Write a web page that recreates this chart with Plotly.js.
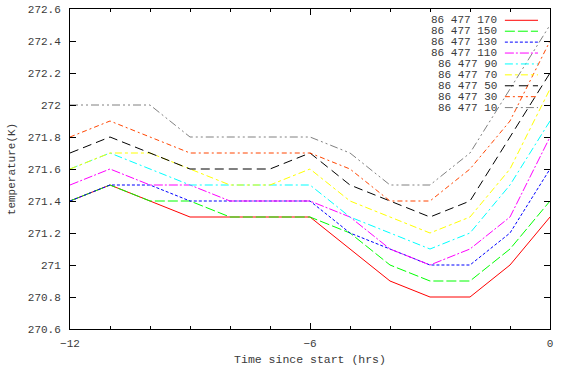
<!DOCTYPE html>
<html>
<head>
<meta charset="utf-8">
<script src="https://cdn.plot.ly/plotly-3.0.1.min.js"></script>
<style>html,body{margin:0;padding:0;background:#fff;}#chart{width:562px;height:366px;}</style>
</head>
<body>
<div id="chart"></div>
<script>
// Hours since start
var hours = [-12, -11, -10, -9, -8, -7, -6, -5, -4, -3, -2, -1, 0];

// Series names (legend labels)
var seriesNames = ["86 477 170", "86 477 150", "86 477 130", "86 477 110", "86 477 90",
                   "86 477 70", "86 477 50", "86 477 30", "86 477 10"];

// Temperatures (K)
var t170 = [271.4, 271.5, 271.4, 271.3, 271.3, 271.3, 271.3, 271.1, 270.9, 270.8, 270.8, 271.0, 271.3];
var t150 = [271.4, 271.5, 271.4, 271.4, 271.3, 271.3, 271.3, 271.2, 271.0, 270.9, 270.9, 271.1, 271.4];
var t130 = [271.4, 271.5, 271.5, 271.4, 271.4, 271.4, 271.4, 271.2, 271.1, 271.0, 271.0, 271.2, 271.6];
var t110 = [271.5, 271.6, 271.5, 271.5, 271.4, 271.4, 271.4, 271.3, 271.1, 271.0, 271.1, 271.3, 271.8];
var t90  = [271.6, 271.7, 271.6, 271.5, 271.5, 271.5, 271.5, 271.3, 271.2, 271.1, 271.2, 271.5, 271.9];
var t70  = [271.6, 271.7, 271.7, 271.6, 271.5, 271.5, 271.6, 271.4, 271.3, 271.2, 271.3, 271.6, 272.1];
var t50  = [271.7, 271.8, 271.7, 271.6, 271.6, 271.6, 271.7, 271.5, 271.4, 271.3, 271.4, 271.8, 272.2];
var t30  = [271.8, 271.9, 271.8, 271.7, 271.7, 271.7, 271.7, 271.6, 271.4, 271.4, 271.6, 271.9, 272.4];
var t10  = [272.0, 272.0, 272.0, 271.8, 271.8, 271.8, 271.8, 271.7, 271.5, 271.5, 271.7, 272.1, 272.5];

var seriesValues = [t170, t150, t130, t110, t90, t70, t50, t30, t10];

var colors = ["#ff0000", "#00ff00", "#0000ff", "#ff00ff", "#00ffff",
              "#ffff00", "#000000", "#ff4500", "#808080"];
var dashes = ["solid", "10px,3px", "3px,2px", "9px,2px,2px,2px", "8px,3px,2px,3px",
              "7px,3px,3px,3px", "9px,5px", "5px,3px,2px,3px", "8px,3px,2px,3px,2px,3px"];

var FONT = "Liberation Mono, DejaVu Sans Mono, monospace";
var TXT = "#3a3a3a";

var traces = seriesNames.map(function (name, i) {
  return {
    x: hours, y: seriesValues[i], name: name, type: "scatter", mode: "lines",
    line: {color: colors[i], width: 1, dash: dashes[i]},
    showlegend: false, hoverinfo: "skip"
  };
});

// Custom gnuplot-style key: text then line sample
var annotations = [];
var shapes = [];
var row0 = 0.9647, rowStep = 0.0341;
seriesNames.forEach(function (name, i) {
  var yy = row0 - i * rowStep;
  annotations.push({
    xref: "paper", yref: "paper", x: 0.894, y: yy, xanchor: "right", yanchor: "middle",
    text: name, showarrow: false, font: {family: FONT, size: 11, color: TXT}
  });
  shapes.push({
    type: "line", xref: "paper", yref: "paper", x0: 0.906, x1: 0.975, y0: yy, y1: yy,
    line: {color: colors[i], width: 1, dash: dashes[i]}
  });
});

var layout = {
  width: 562, height: 366,
  margin: {l: 70, r: 12, t: 9, b: 37, pad: 0},
  paper_bgcolor: "#ffffff", plot_bgcolor: "#ffffff",
  font: {family: FONT, size: 11, color: TXT},
  xaxis: {
    range: [-12, 0], tick0: -12, dtick: 6, ticks: "inside", ticklen: 6, tickcolor: "#000",
    showline: true, linecolor: "#000", linewidth: 1, mirror: "ticks",
    showgrid: false, zeroline: false, ticklabelstandoff: 4,
    tickfont: {family: FONT, size: 11, color: TXT},
    minor: {dtick: 1, ticks: "inside", ticklen: 3, tickcolor: "#000", showgrid: false},
    title: {text: "Time since start (hrs)", font: {family: FONT, size: 11.5, color: TXT}, standoff: 5}
  },
  yaxis: {
    range: [270.6, 272.6], tick0: 270.6, dtick: 0.2, ticks: "inside", ticklen: 6, tickcolor: "#000",
    showline: true, linecolor: "#000", linewidth: 1, mirror: "ticks",
    showgrid: false, zeroline: false, ticklabelstandoff: 6,
    tickfont: {family: FONT, size: 11, color: TXT},
    title: {text: "temperature(K)", font: {family: FONT, size: 11, color: TXT}, standoff: 9}
  },
  annotations: annotations,
  shapes: shapes
};

Plotly.newPlot("chart", traces, layout, {staticPlot: true, displayModeBar: false});
</script>
</body>
</html>
